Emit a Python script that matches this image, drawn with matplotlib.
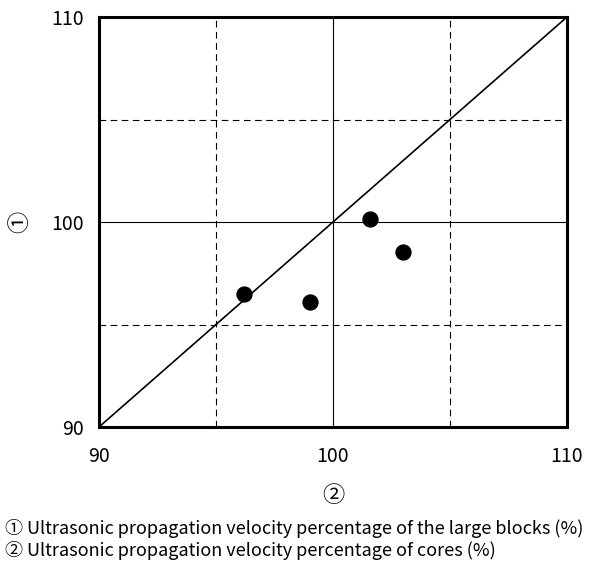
import numpy as np
import matplotlib
matplotlib.use('Agg')
import matplotlib.pyplot as plt

plt.rcParams['font.family'] = ['Noto Sans CJK JP', 'DejaVu Sans']

# data
core_pct = [96.2, 99.0, 101.6, 103.0]    # ② cores
block_pct = [96.5, 96.1, 100.15, 98.55]  # ① large blocks
ticks = [90, 100, 110]
note1 = '① Ultrasonic propagation velocity percentage of the large blocks (%)'
note2 = '② Ultrasonic propagation velocity percentage of cores (%)'

fig = plt.figure(figsize=(5.89, 5.63), dpi=100)
ax = fig.add_axes([99 / 589, 1 - 427 / 563, 468 / 589, 410 / 563])

for v in [95, 105]:
    ax.axvline(v, color='black', lw=0.8, ls=(0, (6, 4)))
    ax.axhline(v, color='black', lw=0.8, ls=(0, (6, 4)))
ax.axvline(100, color='black', lw=0.8)
ax.axhline(100, color='black', lw=0.8)

ax.plot([90, 110], [90, 110], color='black', lw=1.2)
ax.scatter(core_pct, block_pct, s=115, color='black', zorder=3)

ax.set_xlim(90, 110)
ax.set_ylim(90, 110)
ax.set_xticks(ticks)
ax.set_yticks(ticks)
ax.tick_params(length=0, labelsize=14)
ax.tick_params(axis='x', pad=14)
ax.tick_params(axis='y', pad=11)
for s in ax.spines.values():
    s.set_linewidth(2.2)

ax.set_xlabel('②', fontsize=16, labelpad=12)
ax.set_ylabel('①', fontsize=16, labelpad=14)

fig.text(0.008, 1 - 528 / 563, note1, fontsize=13, va='center')
fig.text(0.008, 1 - 550 / 563, note2, fontsize=13, va='center')

fig.savefig('out.png', dpi=100)
